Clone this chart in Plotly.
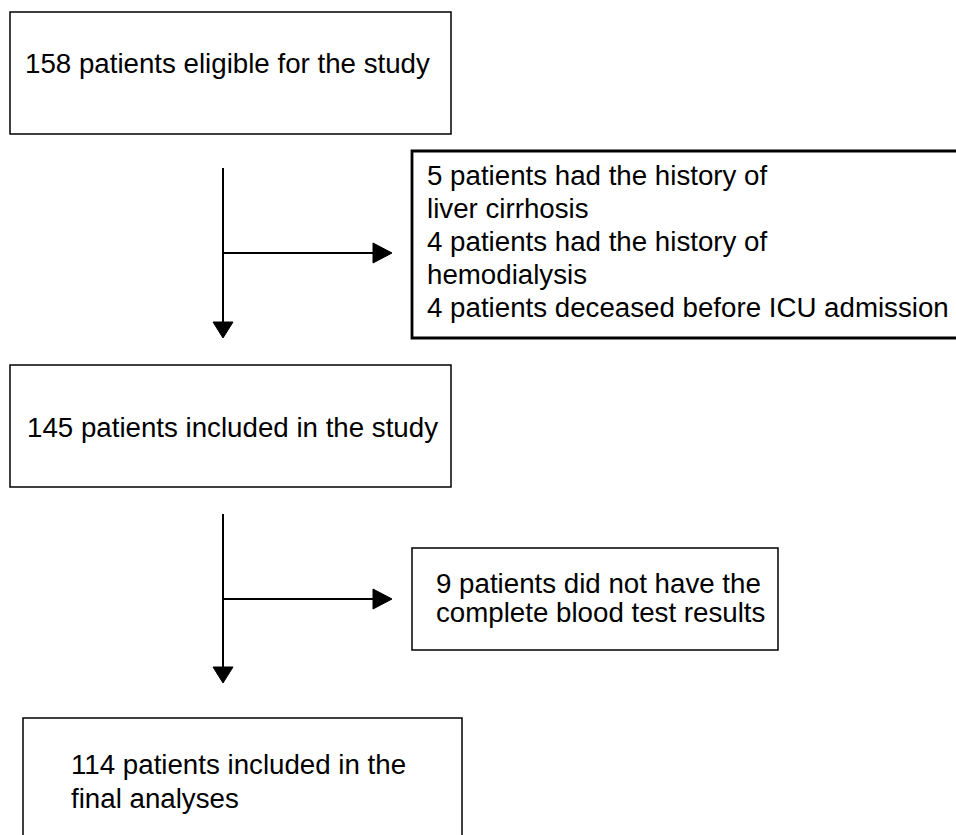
import plotly.graph_objects as go

# Flowchart content
main_steps = [
    ["158 patients eligible for the study"],
    ["145 patients included in the study"],
    ["114 patients included in the", "final analyses"],
]
exclusions = [
    ["5 patients had the history of", "liver cirrhosis",
     "4 patients had the history of", "hemodialysis",
     "4 patients deceased before ICU admission"],
    ["9 patients did not have the", "complete blood test results"],
]

W, H = 956, 835
FONT = dict(family="Liberation Sans, Arial, sans-serif", size=27.7, color="black")
ASC_SHIFT = 9.6  # baseline -> middle of line box

# layout geometry (pixels, y downward)
main_boxes = [
    dict(x0=10, y0=12, x1=451, y1=134, tx=23, base=73, step=33, lw=1.5),
    dict(x0=10, y0=365, x1=451, y1=487, tx=25, base=437, step=33, lw=1.5),
    dict(x0=23, y0=718, x1=462, y1=845, tx=69, base=774, step=34, lw=1.5),
]
excl_boxes = [
    dict(x0=412, y0=151, x1=962, y1=338, tx=425, base=185, step=33, lw=2.8),
    dict(x0=412, y0=548, x1=778, y1=650, tx=434, base=593, step=29, lw=1.5),
]
connectors = [
    dict(x=223, y_top=168, y_tip=338, y_branch=253, x_tip=392),
    dict(x=223, y_top=514, y_tip=683, y_branch=599, x_tip=392),
]

fig = go.Figure()
shapes = []
annotations = []


def add_box(box, lines):
    shapes.append(dict(type="rect", xref="x", yref="y",
                       x0=box["x0"], y0=box["y0"], x1=box["x1"], y1=box["y1"],
                       line=dict(color="black", width=box["lw"]),
                       fillcolor="white", layer="above"))
    for i, txt in enumerate(lines):
        annotations.append(dict(
            x=box["tx"], y=box["base"] + i * box["step"] - ASC_SHIFT,
            xref="x", yref="y", text=txt, showarrow=False,
            xanchor="left", yanchor="middle", font=FONT,
        ))


for box, lines in zip(main_boxes, main_steps):
    add_box(box, lines)
for box, lines in zip(excl_boxes, exclusions):
    add_box(box, lines)

# Connectors with filled arrowheads
for c in connectors:
    head_len, half_w = 16, 10
    shapes.append(dict(type="line", xref="x", yref="y",
                       x0=c["x"], y0=c["y_top"], x1=c["x"], y1=c["y_tip"] - head_len,
                       line=dict(color="black", width=2)))
    shapes.append(dict(type="path", xref="x", yref="y",
                       path=f"M {c['x'] - half_w},{c['y_tip'] - head_len} "
                            f"L {c['x'] + half_w},{c['y_tip'] - head_len} "
                            f"L {c['x']},{c['y_tip']} Z",
                       fillcolor="black", line=dict(color="black", width=1)))
    head_len_h = 19
    shapes.append(dict(type="line", xref="x", yref="y",
                       x0=c["x"], y0=c["y_branch"], x1=c["x_tip"] - head_len_h, y1=c["y_branch"],
                       line=dict(color="black", width=2)))
    shapes.append(dict(type="path", xref="x", yref="y",
                       path=f"M {c['x_tip'] - head_len_h},{c['y_branch'] - half_w} "
                            f"L {c['x_tip'] - head_len_h},{c['y_branch'] + half_w} "
                            f"L {c['x_tip']},{c['y_branch']} Z",
                       fillcolor="black", line=dict(color="black", width=1)))

fig.update_layout(
    width=W, height=H,
    margin=dict(l=0, r=0, t=0, b=0),
    plot_bgcolor="white", paper_bgcolor="white",
    showlegend=False,
    shapes=shapes,
    annotations=annotations,
    xaxis=dict(range=[0, W], visible=False, fixedrange=True),
    yaxis=dict(range=[H, 0], visible=False, fixedrange=True),
)

# remove the default page margin so the figure sits at the window origin
fig.write_html("out.html", config={"displayModeBar": False},
               post_script="document.body.style.margin='0';document.body.style.overflow='hidden';")
